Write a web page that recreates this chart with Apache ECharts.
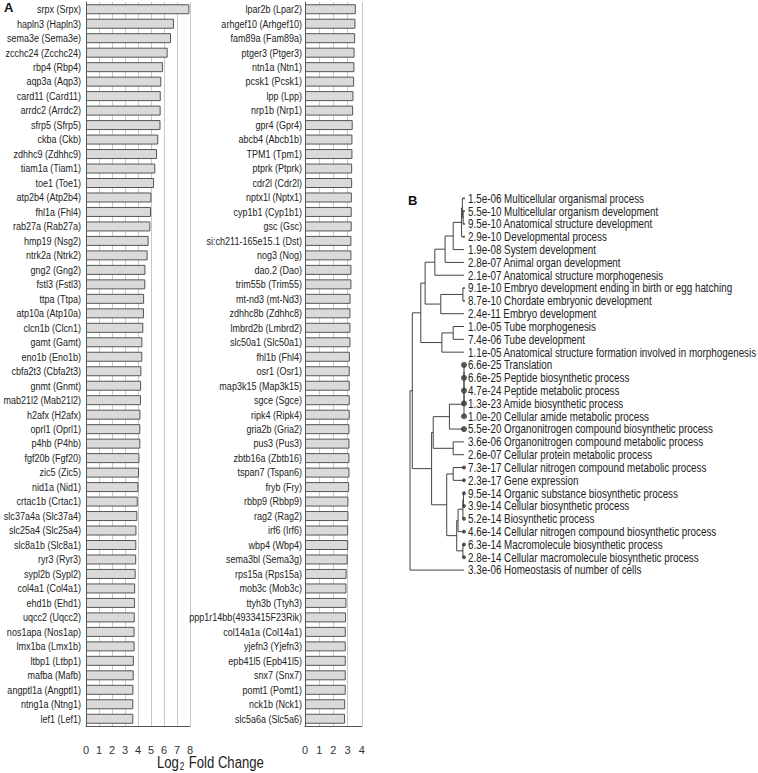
<!DOCTYPE html>
<html><head><meta charset="utf-8">
<script src="https://cdn.jsdelivr.net/npm/echarts@6/dist/echarts.min.js"></script>
<style>html,body{margin:0;padding:0;background:#fff}#c{width:758px;height:773px}</style>
</head><body><div id="c"></div>
<script>
const genesLeft = ["srpx (Srpx)","hapln3 (Hapln3)","sema3e (Sema3e)","zcchc24 (Zcchc24)","rbp4 (Rbp4)","aqp3a (Aqp3)","card11 (Card11)","arrdc2 (Arrdc2)","sfrp5 (Sfrp5)","ckba (Ckb)","zdhhc9 (Zdhhc9)","tiam1a (Tiam1)","toe1 (Toe1)","atp2b4 (Atp2b4)","fhl1a (Fhl4)","rab27a (Rab27a)","hmp19 (Nsg2)","ntrk2a (Ntrk2)","gng2 (Gng2)","fstl3 (Fstl3)","ttpa (Ttpa)","atp10a (Atp10a)","clcn1b (Clcn1)","gamt (Gamt)","eno1b (Eno1b)","cbfa2t3 (Cbfa2t3)","gnmt (Gnmt)","mab21l2 (Mab21l2)","h2afx (H2afx)","oprl1 (Oprl1)","p4hb (P4hb)","fgf20b (Fgf20)","zic5 (Zic5)","nid1a (Nid1)","crtac1b (Crtac1)","slc37a4a (Slc37a4)","slc25a4 (Slc25a4)","slc8a1b (Slc8a1)","ryr3 (Ryr3)","sypl2b (Sypl2)","col4a1 (Col4a1)","ehd1b (Ehd1)","uqcc2 (Uqcc2)","nos1apa (Nos1ap)","lmx1ba (Lmx1b)","ltbp1 (Ltbp1)","mafba (Mafb)","angptl1a (Angptl1)","ntng1a (Ntng1)","lef1 (Lef1)"];
const foldLeft = [7.95,6.77,6.54,6.28,5.92,5.79,5.75,5.74,5.73,5.56,5.46,5.33,5.23,5.03,5.0,4.95,4.82,4.74,4.57,4.56,4.47,4.46,4.41,4.34,4.33,4.26,4.24,4.23,4.19,4.18,4.18,4.11,4.08,4.03,3.98,3.95,3.88,3.87,3.86,3.82,3.78,3.77,3.75,3.74,3.74,3.68,3.67,3.65,3.64,3.64];
const genesRight = ["lpar2b (Lpar2)","arhgef10 (Arhgef10)","fam89a (Fam89a)","ptger3 (Ptger3)","ntn1a (Ntn1)","pcsk1 (Pcsk1)","lpp (Lpp)","nrp1b (Nrp1)","gpr4 (Gpr4)","abcb4 (Abcb1b)","TPM1 (Tpm1)","ptprk (Ptprk)","cdr2l (Cdr2l)","nptx1l (Nptx1)","cyp1b1 (Cyp1b1)","gsc (Gsc)","si:ch211-165e15.1 (Dst)","nog3 (Nog)","dao.2 (Dao)","trim55b (Trim55)","mt-nd3 (mt-Nd3)","zdhhc8b (Zdhhc8)","lmbrd2b (Lmbrd2)","slc50a1 (Slc50a1)","fhl1b (Fhl4)","osr1 (Osr1)","map3k15 (Map3k15)","sgce (Sgce)","ripk4 (Ripk4)","gria2b (Gria2)","pus3 (Pus3)","zbtb16a (Zbtb16)","tspan7 (Tspan6)","fryb (Fry)","rbbp9 (Rbbp9)","rag2 (Rag2)","irf6 (Irf6)","wbp4 (Wbp4)","sema3bl (Sema3g)","rps15a (Rps15a)","mob3c (Mob3c)","ttyh3b (Ttyh3)","ppp1r14bb(4933415F23Rik)","col14a1a (Col14a1)","yjefn3 (Yjefn3)","epb41l5 (Epb41l5)","snx7 (Snx7)","pomt1 (Pomt1)","nck1b (Nck1)","slc5a6a (Slc5a6)"];
const foldRight = [3.58,3.55,3.53,3.49,3.48,3.46,3.41,3.39,3.36,3.34,3.34,3.32,3.32,3.30,3.29,3.29,3.27,3.27,3.27,3.27,3.21,3.20,3.20,3.20,3.16,3.15,3.15,3.15,3.15,3.13,3.13,3.13,3.13,3.11,3.06,3.06,3.04,3.04,3.01,2.93,2.92,2.92,2.89,2.87,2.87,2.87,2.87,2.87,2.83,2.82];
const ticksLeft = [0,1,2,3,4,5,6,7,8];
const ticksRight = [0,1,2,3,4];

const goPvalues = ["1.5e-06","5.5e-10","9.5e-10","2.9e-10","1.9e-08","2.8e-07","2.1e-07","9.1e-10","8.7e-10","2.4e-11","1.0e-05","7.4e-06","1.1e-05","6.6e-25","6.6e-25","4.7e-24","1.3e-23","1.0e-20","5.5e-20","3.6e-06","2.6e-07","7.3e-17","2.3e-17","9.5e-14","3.9e-14","5.2e-14","4.6e-14","6.3e-14","2.8e-14","3.3e-06"];
const goTerms = ["Multicellular organismal process","Multicellular organism development","Anatomical structure development","Developmental process","System development","Animal organ development","Anatomical structure morphogenesis","Embryo development ending in birth or egg hatching","Chordate embryonic development","Embryo development","Tube morphogenesis","Tube development","Anatomical structure formation involved in morphogenesis","Translation","Peptide biosynthetic process","Peptide metabolic process","Amide biosynthetic process","Cellular amide metabolic process","Organonitrogen compound biosynthetic process","Organonitrogen compound metabolic process","Cellular protein metabolic process","Cellular nitrogen compound metabolic process","Gene expression","Organic substance biosynthetic process","Cellular biosynthetic process","Biosynthetic process","Cellular nitrogen compound biosynthetic process","Macromolecule biosynthetic process","Cellular macromolecule biosynthetic process","Homeostasis of number of cells"];
// linkage: [childA, childB, height]; leaves 0..29, merges numbered from 30
const merges = [
  [1,2,0.015],[0,30,0.03],[31,3,0.045],[32,4,0.20],[33,5,0.35],[34,6,0.54],
  [7,8,0.02],[36,9,0.43],[35,37,0.72],[10,11,0.20],[39,12,0.41],[38,40,0.80],
  [13,14,0],[42,15,0],[43,16,0],[44,17,0],[45,18,0.27],[19,20,0.20],[46,47,0.57],
  [21,22,0.20],[23,24,0.01],[50,25,0.02],[51,26,0.11],[27,28,0.02],[52,53,0.135],
  [49,54,0.32],[48,55,0.60],[41,56,0.957],[57,29,1.0]
];
const bigDotLeaves = [13,14,15,16,17,18];
const smallDotLeaves = [21,22,23,24,25,26,27,28];
const tinyDotLeaves = [0,1,2,3,7,8];

const FONT = "'Liberation Sans',Arial,sans-serif";
const NARROW = 0.82;
const n = goTerms.length;
const pos = [];
for (let i = 0; i < n; i++) pos.push([0, i]);
const segs = [];
merges.forEach(m => {
  const a = pos[m[0]], b = pos[m[1]], h = m[2];
  segs.push([h, a[1], h, b[1]]);
  segs.push([h, a[1], a[0], a[1]]);
  segs.push([h, b[1], b[0], b[1]]);
  pos.push([h, (a[1] + b[1]) / 2]);
});

const chart = echarts.init(document.getElementById('c'), null, {renderer: 'svg'});
const barGrid = (left, width) => ({left, width, top: 2, height: 724, outerBoundsMode: 'none', containLabel: false});
const xBar = (gi, max, ticks) => ({
  type: 'value', gridIndex: gi, min: ticks[0], max: max, interval: 1,
  axisLine: {show: true, lineStyle: {color: '#555', width: 1}},
  axisTick: {show: false},
  axisLabel: {fontFamily: FONT, fontSize: 11, color: '#333', margin: 18},
  splitLine: {show: true, lineStyle: {color: '#c8c8c8', width: 1}}
});
const yBar = (gi, cats) => ({
  type: 'category', gridIndex: gi, data: cats, inverse: true,
  axisLine: {show: true, lineStyle: {color: '#555', width: 1}},
  axisTick: {show: false},
  axisLabel: {show: false}
});
const barStyle = {color: '#dadada', borderColor: '#555', borderWidth: 1};
const labelSeries = (gi, names, gap) => ({
  type: 'custom', xAxisIndex: gi, yAxisIndex: gi, silent: true, clip: false,
  data: names.map((_, i) => [0, i]), z: 5,
  renderItem: (params, api) => {
    const p = api.coord([0, params.dataIndex]);
    return {type: 'text', x: p[0] - gap, y: p[1], scaleX: NARROW,
      style: {text: names[params.dataIndex], align: 'right', verticalAlign: 'middle',
              fontFamily: FONT, fontSize: 11, fill: '#222'}};
  }
});

chart.setOption({
  animation: false,
  backgroundColor: '#fff',
  grid: [barGrid(86, 104), barGrid(305, 56.8),
    {left: 410, width: 54, top: 191.9, height: 384.6, outerBoundsMode: 'none', containLabel: false}],
  xAxis: [xBar(0, 8, ticksLeft), xBar(1, 4, ticksRight),
    {type: 'value', gridIndex: 2, min: 0, max: 1, inverse: true, show: false}],
  yAxis: [yBar(0, genesLeft), yBar(1, genesRight),
    {type: 'value', gridIndex: 2, min: -0.5, max: n - 0.5, inverse: true, show: false}],
  series: [
    {type: 'bar', xAxisIndex: 0, yAxisIndex: 0, data: foldLeft, barWidth: 10, itemStyle: barStyle},
    {type: 'bar', xAxisIndex: 1, yAxisIndex: 1, data: foldRight, barWidth: 10, itemStyle: barStyle},
    labelSeries(0, genesLeft, 5),
    labelSeries(1, genesRight, 3),
    {type: 'custom', xAxisIndex: 2, yAxisIndex: 2, data: segs, silent: true, clip: false,
     renderItem: (params, api) => {
       const p1 = api.coord([api.value(0), api.value(1)]);
       const p2 = api.coord([api.value(2), api.value(3)]);
       return {type: 'line', shape: {x1: p1[0], y1: p1[1], x2: p2[0], y2: p2[1]},
               style: {stroke: '#444', lineWidth: 1}};
     }},
    {type: 'custom', xAxisIndex: 2, yAxisIndex: 2, silent: true, clip: false,
     data: goTerms.map((_, i) => [0, i]),
     renderItem: (params, api) => {
       const i = params.dataIndex;
       const p = api.coord([0, i]);
       return {type: 'text', x: p[0] + 4, y: p[1], scaleX: NARROW,
         style: {text: goPvalues[i] + ' ' + goTerms[i], align: 'left', verticalAlign: 'middle',
                 fontFamily: FONT, fontSize: 12, fill: '#222'}};
     }},
    {type: 'scatter', xAxisIndex: 2, yAxisIndex: 2, symbolSize: 6, itemStyle: {color: '#333'},
     data: bigDotLeaves.map(i => [0, i]), silent: true},
    {type: 'scatter', xAxisIndex: 2, yAxisIndex: 2, symbolSize: 4, itemStyle: {color: '#333'},
     data: smallDotLeaves.map(i => [0, i]), silent: true},
    {type: 'scatter', xAxisIndex: 2, yAxisIndex: 2, symbolSize: 2, itemStyle: {color: '#444'},
     data: tinyDotLeaves.map(i => [0, i]), silent: true}
  ],
  graphic: [
    {type: 'text', x: 4, y: 1, style: {text: 'A', font: "bold 13px 'Liberation Sans',sans-serif", fill: '#111'}},
    {type: 'text', x: 408, y: 194, style: {text: 'B', font: "bold 13px 'Liberation Sans',sans-serif", fill: '#111'}},
    {type: 'text', x: 157, y: 754, scaleX: NARROW, style: {
      text: '{m|Log}{s|2}{m| Fold Change}',
      rich: {m: {fontFamily: FONT, fontSize: 16, fill: '#222', color: '#222'},
             s: {fontFamily: FONT, fontSize: 10, fill: '#222', color: '#222', verticalAlign: 'bottom', padding: [8, 1, 0, 1]}}
    }}
  ]
});
</script></body></html>
